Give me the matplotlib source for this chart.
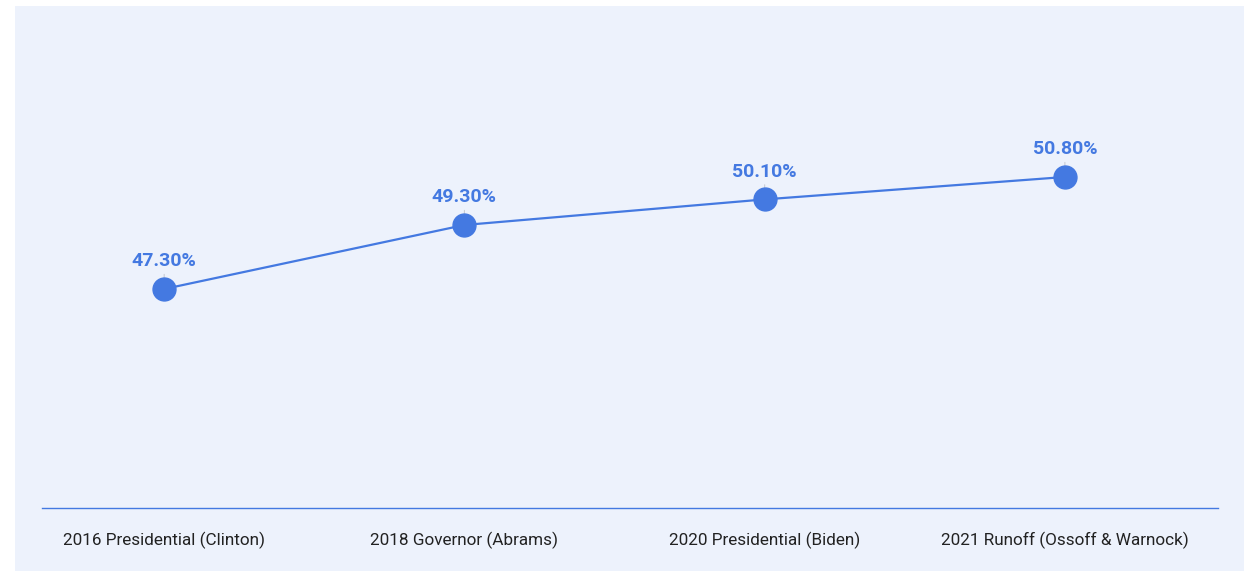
import matplotlib.pyplot as plt
from matplotlib.patches import Rectangle

plt.rcParams['font.family'] = ['Roboto', 'DejaVu Sans']

# données
categories = ["2016 Presidential (Clinton)", "2018 Governor (Abrams)",
              "2020 Presidential (Biden)", "2021 Runoff (Ossoff & Warnock)"]
share = [47.3, 49.3, 50.1, 50.8]

W, H = 1249, 572
fig = plt.figure(figsize=(W / 100, H / 100), dpi=100)
fig.patch.set_facecolor('white')
# fond bleu clair du panneau
fig.patches.append(Rectangle((15 / W, 1 - 571 / H), 1229 / W, 565 / H,
                             transform=fig.transFigure, facecolor='#edf2fc',
                             edgecolor='none', zorder=-1))

ax = fig.add_axes([42 / W, 1 - 508 / H, 1176 / W, 480 / H])
ax.set_facecolor('none')
blue = '#4479e1'

x = list(range(len(categories)))
ax.plot(x, share, color=blue, lw=1.6, zorder=2)
ax.plot(x, share, 'o', color=blue, ms=16.5, zorder=4)

for xi, v in zip(x, share):
    ax.annotate(f"{v:.2f}%", (xi, v), xytext=(0, 20), textcoords='offset points',
                ha='center', va='center', fontsize=14, fontweight='bold', color=blue,
                arrowprops=dict(arrowstyle='-', color='#c8ccd4', lw=0.8,
                                shrinkA=1, shrinkB=0), zorder=3)

ax.set_xlim(-0.407, 3.51)
ax.set_ylim(40.456, 55.456)
ax.set_xticks(x)
ax.set_xticklabels(categories, fontsize=12.3, color='#222222')
ax.tick_params(axis='x', length=0, pad=17)
ax.set_yticks([])
for s in ['top', 'right', 'left']:
    ax.spines[s].set_visible(False)
ax.spines['bottom'].set_color(blue)
ax.spines['bottom'].set_linewidth(1)

fig.savefig('out.png', dpi=100)
